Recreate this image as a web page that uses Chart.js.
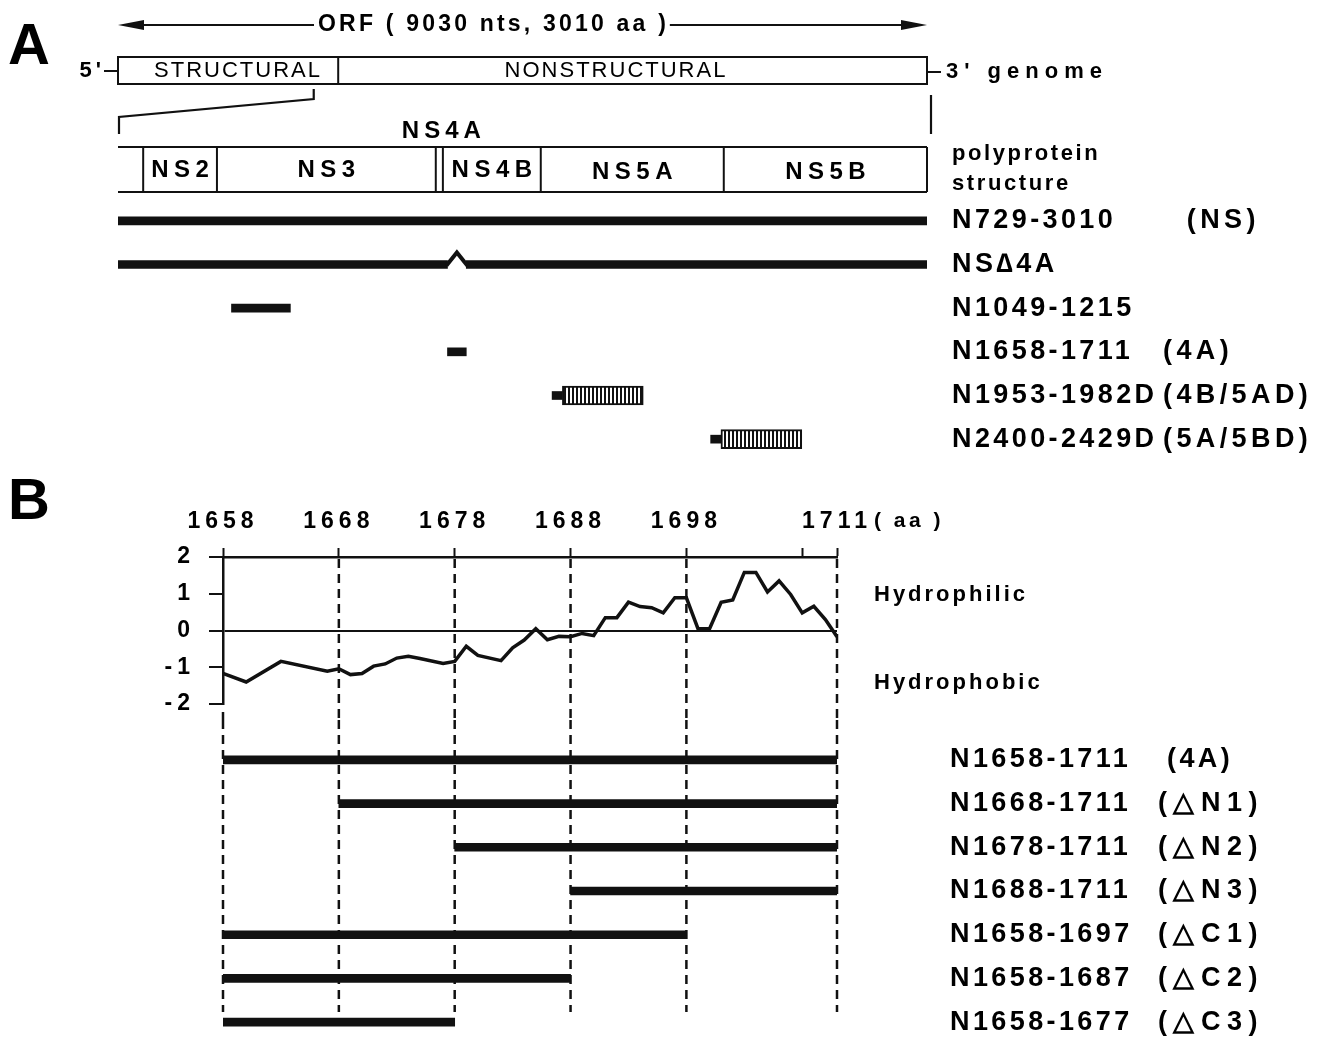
<!DOCTYPE html>
<html>
<head>
<meta charset="utf-8">
<script src="https://cdn.jsdelivr.net/npm/chart.js@4.4.1/dist/chart.umd.min.js"></script>
<style>
  html, body { margin: 0; padding: 0; background: #fff; }
  body { width: 1341px; height: 1040px; position: relative; overflow: hidden; }
  canvas { position: absolute; left: 0; }
  #chartA { top: 0; }
  #chartB { top: 470px; }
  #chartC { top: 720px; }
</style>
</head>
<body>
<canvas id="chartA" width="1341" height="470"></canvas>
<canvas id="chartB" width="1341" height="250"></canvas>
<canvas id="chartC" width="1341" height="330"></canvas>
<script>
// ---- panel A : genome / polyprotein map (aa positions) ----
const orfLength = 3010;
const structuralEnd = 820;
const zoomStart = 729;
const domainNames = ['NS2', 'NS3', 'NS4A', 'NS4B', 'NS5A', 'NS5B'];
const domainStarts = [800, 1008, 1625, 1645, 1921, 2437];
const polyproteinEnd = 3010;

const constructsA = ['N729-3010', 'NS\u22064A', 'N1049-1215', 'N1658-1711', 'N1953-1982D', 'N2400-2429D'];
const tagsA = ['  (NS)', '', '', '(4A)', '(4B/5AD)', '(5A/5BD)'];
const startsA = [729, 729, 1049, 1658, 1953, 2400];
const endsA = [3010, 3010, 1215, 1711, 1982, 2429];
const deletedA = [null, [1658, 1711], null, null, null, null];
const dTagLength = [0, 0, 0, 0, 228, 228]; // fused "D" tag, length

// ---- panel B : hydropathy of NS4A and deletion constructs ----
const hydroPos = [1658, 1660, 1663, 1667, 1668, 1669, 1670, 1671, 1672, 1673, 1674, 1675, 1677, 1678,
  1679, 1680, 1682, 1683, 1684, 1685, 1686, 1687, 1688, 1689, 1690, 1691, 1692, 1693, 1694, 1695,
  1696, 1697, 1698, 1699, 1700, 1701, 1702, 1703, 1704, 1705, 1706, 1707, 1708, 1709, 1710, 1711];
const hydroVal = [-1.17, -1.40, -0.84, -1.11, -1.04, -1.20, -1.17, -0.97, -0.91, -0.75, -0.70, -0.76, -0.90, -0.84,
  -0.43, -0.68, -0.82, -0.47, -0.26, 0.05, -0.25, -0.16, -0.17, -0.08, -0.14, 0.35, 0.35, 0.77, 0.65, 0.62,
  0.48, 0.89, 0.89, 0.05, 0.05, 0.77, 0.83, 1.58, 1.58, 1.05, 1.35, 0.98, 0.48, 0.66, 0.30, -0.17];
const tickAA = [1658, 1668, 1678, 1688, 1698, 1708, 1711];
const tickHydro = [-2, -1, 0, 1, 2];
const cutSites = [1658, 1668, 1678, 1688, 1698, 1711];

const constructsB = ['N1658-1711', 'N1668-1711', 'N1678-1711', 'N1688-1711', 'N1658-1697', 'N1658-1687', 'N1658-1677'];
const tagsB = ['(4A)', '(\u25B3N1)', '(\u25B3N2)', '(\u25B3N3)', '(\u25B3C1)', '(\u25B3C2)', '(\u25B3C3)'];
const startsB = [1658, 1668, 1678, 1688, 1658, 1658, 1658];
const endsB = [1711, 1711, 1711, 1711, 1697, 1687, 1677];

const FONT = '"Liberation Sans", Arial, Helvetica, sans-serif';
const INK = '#111';

function text(ctx, s, x, y, size, sp, align = 'left', weight = 'bold') {
  ctx.save();
  ctx.font = `${weight} ${size}px ${FONT}`;
  ctx.letterSpacing = sp + 'px';
  ctx.textAlign = align;
  ctx.textBaseline = 'middle';
  ctx.fillStyle = '#000';
  const shift = align === 'center' ? sp / 2 : align === 'right' ? sp : 0;
  ctx.fillText(s, x + shift, y);
  const w = ctx.measureText(s).width - sp;
  ctx.restore();
  return w;
}

function stroke(ctx, pts, w = 2, dash = []) {
  ctx.save();
  ctx.strokeStyle = INK;
  ctx.lineWidth = w;
  ctx.setLineDash(dash);
  ctx.beginPath();
  pts.forEach(([px, py], i) => (i ? ctx.lineTo(px, py) : ctx.moveTo(px, py)));
  ctx.stroke();
  ctx.restore();
}

function arrowHead(ctx, tipX, y, dir) {
  ctx.save();
  ctx.fillStyle = INK;
  ctx.beginPath();
  ctx.moveTo(tipX, y);
  ctx.lineTo(tipX + dir * 26, y - 5);
  ctx.lineTo(tipX + dir * 26, y + 5);
  ctx.closePath();
  ctx.fill();
  ctx.restore();
}

function noPad(s) {
  s.paddingTop = 0; s.paddingBottom = 0; s.paddingLeft = 0; s.paddingRight = 0;
}

// ---------- chart A ----------
const ctxA = document.getElementById('chartA').getContext('2d');
const tile = document.createElement('canvas');
tile.width = 4; tile.height = 4;
const tg = tile.getContext('2d');
tg.fillStyle = '#fff'; tg.fillRect(0, 0, 4, 4);
tg.fillStyle = INK; tg.fillRect(0, 0, 2, 4);
const hatch = ctxA.createPattern(tile, 'repeat');

const mapDecor = {
  id: 'mapDecor',
  afterDraw(chart) {
    const { ctx } = chart;
    const x = chart.scales.x;
    const xg = chart.scales.xg;
    const yS = chart.scales.y;
    const L = x.getPixelForValue(zoomStart);
    const R = x.getPixelForValue(polyproteinEnd);

    text(ctx, 'A', 8, 48, 58, 0);

    // ORF arrow
    const tEnd = 318 + text(ctx, 'ORF ( 9030 nts, 3010 aa )', 318, 25, 23, 3.2);
    stroke(ctx, [[L + 10, 25], [314, 25]], 2);
    stroke(ctx, [[tEnd + 4, 25], [R - 10, 25]], 2);
    arrowHead(ctx, L, 25, 1);
    arrowHead(ctx, R, 25, -1);

    // genome box
    const g0 = xg.getPixelForValue(1);
    const g1 = xg.getPixelForValue(orfLength);
    const gs = xg.getPixelForValue(structuralEnd);
    ctx.save();
    ctx.strokeStyle = INK; ctx.lineWidth = 2;
    ctx.strokeRect(g0, 57, g1 - g0, 27);
    ctx.restore();
    stroke(ctx, [[gs, 57], [gs, 84]], 2);
    text(ctx, 'STRUCTURAL', 237, 71, 22, 2, 'center', 'normal');
    text(ctx, 'NONSTRUCTURAL', 615, 71, 22, 2, 'center', 'normal');
    text(ctx, "5'", g0 - 17, 71, 22, 4, 'right');
    stroke(ctx, [[g0 - 14, 71], [g0, 71]], 2);
    stroke(ctx, [[g1, 72], [g1 + 14, 72]], 2);
    text(ctx, "3' genome", g1 + 19, 72, 22, 6);

    // zoom lines
    const z = xg.getPixelForValue(zoomStart);
    stroke(ctx, [[z, 89], [z, 99], [L + 1, 117], [L + 1, 134]], 2.2);
    stroke(ctx, [[R + 4, 95], [R + 4, 134]], 2.2);

    // polyprotein box
    stroke(ctx, [[L, 147], [R, 147]], 2);
    stroke(ctx, [[L, 192], [R, 192]], 2);
    const bounds = domainStarts.concat([polyproteinEnd]).map((v) => x.getPixelForValue(v));
    bounds.forEach((px) => stroke(ctx, [[px, 147], [px, 192]], 2));
    domainNames.forEach((name, i) => {
      const cx = (bounds[i] + bounds[i + 1]) / 2;
      if (name === 'NS4A') {
        text(ctx, name, cx + 2, 131, 24, 5, 'center');
      } else {
        text(ctx, name, cx, name.startsWith('NS5') ? 172 : 170, 24, 5.5, 'center');
      }
    });
    text(ctx, 'polyprotein', 952, 154, 22, 2.6);
    text(ctx, 'structure', 952, 184, 22, 2.6);

    // deletion notch
    deletedA.forEach((d, i) => {
      if (!d) return;
      const yy = yS.getPixelForValue(i);
      const a = x.getPixelForValue(d[0]);
      const b = x.getPixelForValue(d[1]);
      stroke(ctx, [[a - 1, yy + 1], [(a + b) / 2, yy - 12], [b + 1, yy + 1]], 4);
    });

    // row labels
    constructsA.forEach((name, i) => {
      const yy = yS.getPixelForValue(i);
      text(ctx, name, 952, yy, 27, 3.4);
      if (tagsA[i]) text(ctx, tagsA[i], 1163, yy, 27, 4.4);
    });
  },
};

new Chart(ctxA, {
  type: 'bar',
  data: {
    labels: constructsA,
    datasets: [
      {
        label: 'construct',
        data: startsA.map((s, i) => (deletedA[i] ? [s, deletedA[i][0]] : [s, endsA[i]])),
        backgroundColor: INK,
        barThickness: 8,
        grouped: false,
      },
      {
        label: 'after deletion',
        data: startsA.map((s, i) => (deletedA[i] ? [deletedA[i][1], endsA[i]] : null)),
        backgroundColor: INK,
        barThickness: 8,
        grouped: false,
      },
      {
        label: 'D tag',
        data: endsA.map((e, i) => (dTagLength[i] ? [e, e + dTagLength[i]] : null)),
        backgroundColor: hatch,
        borderColor: INK,
        borderWidth: 2,
        borderSkipped: false,
        barThickness: 19,
        grouped: false,
      },
    ],
  },
  options: {
    indexAxis: 'y',
    responsive: false,
    animation: false,
    layout: { padding: { left: 118, right: 414, top: 199, bottom: 9 } },
    plugins: { legend: { display: false }, tooltip: { enabled: false } },
    scales: {
      x: { type: 'linear', min: zoomStart, max: polyproteinEnd, display: false },
      xg: { type: 'linear', axis: 'x', min: 1, max: orfLength, display: false },
      y: { display: false },
    },
  },
  plugins: [mapDecor],
});

// ---------- chart B : hydropathy plot ----------
const plotDecor = {
  id: 'plotDecor',
  beforeDraw(chart) {
    chart.ctx.letterSpacing = '5px';
  },
  beforeDatasetsDraw(chart) {
    const { ctx } = chart;
    const x = chart.scales.x;
    const y = chart.scales.y;
    cutSites.forEach((v) => {
      const px = x.getPixelForValue(v);
      const top = v === cutSites[0] ? y.bottom + 8 : chart.chartArea.top + 2;
      stroke(ctx, [[px, top], [px, chart.height]], 2.5, [9, 6]);
    });
  },
  afterDraw(chart) {
    const { ctx } = chart;
    const y = chart.scales.y;
    ctx.letterSpacing = '0px';
    text(ctx, 'B', 8, 33, 58, 0);
    text(ctx, '( aa )', 874, 51, 21, 3.5);
    text(ctx, 'Hydrophilic', 874, y.getPixelForValue(1) + 1, 22, 3);
    text(ctx, 'Hydrophobic', 874, y.getPixelForValue(-1.42), 22, 3);
  },
};

const tickFont = { family: FONT, size: 23, weight: 'bold' };

new Chart(document.getElementById('chartB'), {
  type: 'line',
  data: {
    datasets: [
      {
        label: 'hydropathy',
        data: hydroPos.map((v, i) => ({ x: v, y: hydroVal[i] })),
        borderColor: INK,
        borderWidth: 3.5,
        pointRadius: 0,
        tension: 0,
      },
    ],
  },
  options: {
    responsive: false,
    animation: false,
    layout: { padding: { left: 163, right: 504, top: 37, bottom: 16 } },
    plugins: { legend: { display: false }, tooltip: { enabled: false } },
    scales: {
      x: {
        type: 'linear',
        position: 'top',
        min: 1658,
        max: 1711,
        afterBuildTicks: (s) => { s.ticks = tickAA.map((value) => ({ value })); },
        afterFit: (s) => { s.height = 50; noPad(s); },
        ticks: {
          callback: (v) => (v === 1708 ? '' : String(v)),
          font: tickFont,
          color: '#000',
          padding: 13,
          maxRotation: 0,
          autoSkip: false,
        },
        grid: { drawOnChartArea: false, drawTicks: true, tickLength: 9, tickWidth: 2, tickColor: INK },
        border: { display: true, color: INK, width: 2.5 },
      },
      y: {
        type: 'linear',
        position: 'left',
        min: -2,
        max: 2,
        afterBuildTicks: (s) => { s.ticks = tickHydro.map((value) => ({ value })); },
        afterFit: (s) => { s.width = 60; noPad(s); },
        ticks: { callback: (v) => String(v), font: tickFont, color: '#000', padding: 14 },
        grid: {
          color: (c) => (c.tick && c.tick.value === 0 ? INK : 'rgba(0,0,0,0)'),
          lineWidth: 2,
          drawTicks: true,
          tickLength: 14,
          tickWidth: 2,
          tickColor: INK,
        },
        border: { display: true, color: INK, width: 2.5 },
      },
    },
  },
  plugins: [plotDecor],
});

// ---------- chart C : NS4A deletion constructs ----------
const rowDecor = {
  id: 'rowDecor',
  beforeDatasetsDraw(chart) {
    const { ctx } = chart;
    const x = chart.scales.x;
    cutSites.forEach((v) => {
      const px = x.getPixelForValue(v);
      stroke(ctx, [[px, 0], [px, 292]], 2.5, [9, 6]);
    });
  },
  afterDraw(chart) {
    const { ctx } = chart;
    const yS = chart.scales.y;
    constructsB.forEach((name, i) => {
      const yy = yS.getPixelForValue(i);
      text(ctx, name, 950, yy, 27, 3.4);
      if (i === 0) text(ctx, tagsB[i], 1167, yy, 27, 3.4);
      else text(ctx, tagsB[i], 1158, yy, 27, 6.5);
    });
  },
};

new Chart(document.getElementById('chartC'), {
  type: 'bar',
  data: {
    labels: constructsB,
    datasets: [
      {
        label: 'construct',
        // residue-inclusive span: residue n covers [n, n + 1)
        data: startsB.map((s, i) => [s, endsB[i] + 1]),
        backgroundColor: INK,
        barThickness: 8,
      },
    ],
  },
  options: {
    indexAxis: 'y',
    responsive: false,
    animation: false,
    layout: { padding: { left: 223, right: 504, top: 18, bottom: 6 } },
    plugins: { legend: { display: false }, tooltip: { enabled: false } },
    scales: {
      x: { type: 'linear', min: 1658, max: 1711, display: false },
      y: { display: false },
    },
  },
  plugins: [rowDecor],
});
</script>
</body>
</html>
